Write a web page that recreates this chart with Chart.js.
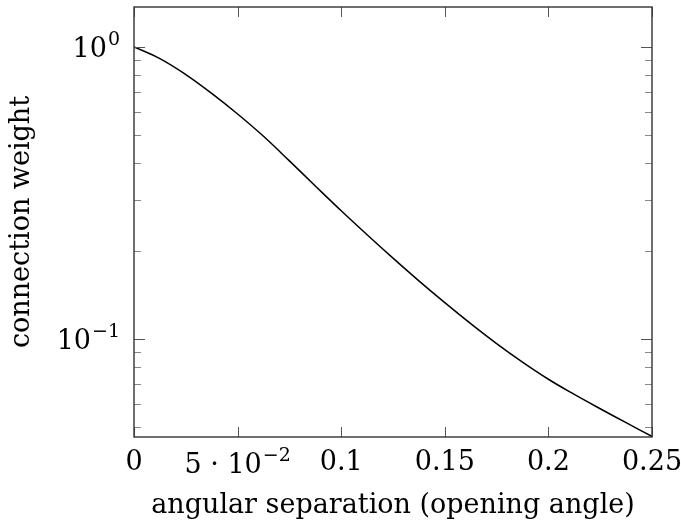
<!DOCTYPE html>
<html>
<head>
<meta charset="utf-8">
<script src="https://cdn.jsdelivr.net/npm/chart.js@4.4.0/dist/chart.umd.min.js"></script>
<style>
  html, body { margin:0; padding:0; background:#fff; }
  #wrap { width:681px; height:528px; position:relative; }
</style>
</head>
<body>
<div id="wrap"><canvas id="weightChart"></canvas></div>
<script>
// angular separation (opening angle) vs connection weight
const angles  = [0, 0.0125, 0.025, 0.0375, 0.05, 0.0625, 0.075, 0.0875, 0.1, 0.1125, 0.125,
                 0.1375, 0.15, 0.1625, 0.175, 0.1875, 0.2, 0.2125, 0.225, 0.2375, 0.25];
const weights = [1.0, 0.912, 0.804, 0.693, 0.589, 0.494, 0.407, 0.334, 0.2746, 0.2273, 0.189,
                 0.158, 0.133, 0.1127, 0.0963, 0.0832, 0.0727, 0.0645, 0.0576, 0.0516, 0.0463];

const xTicks = [0, 0.05, 0.1, 0.15, 0.2, 0.25];
const xTickLabels = ['0', '', '0.1', '0.15', '0.2', '0.25'];
// labels with an exponent: [mantissa part, exponent]
const xPowLabel = { value: 0.05, base: '5 \u00b7 10', exp: '\u22122' };
const yMajor = [0.1, 1];
const yPowLabels = [['10', '\u22121'], ['10', '0']];
const yMinor = [0.05, 0.06, 0.07, 0.08, 0.09, 0.2, 0.3, 0.4, 0.5, 0.6, 0.7, 0.8, 0.9];

const FONT = "'DejaVu Serif', 'Liberation Serif', serif";

function powText(ctx, base, exp, xRight, baseline) {
  ctx.font = '19px ' + FONT;
  const we = ctx.measureText(exp).width;
  ctx.font = '27px ' + FONT;
  const wb = ctx.measureText(base).width;
  const x0 = xRight - we - wb - 1;
  ctx.fillText(base, x0, baseline);
  ctx.font = '19px ' + FONT;
  ctx.fillText(exp, x0 + wb + 1, baseline - 12);
  return we + wb + 1;
}

// pgfplots style frame with inward ticks on all four sides
const frameTicks = {
  id: 'frameTicks',
  afterDraw(chart) {
    const {ctx, chartArea: a, scales: {x, y}} = chart;
    ctx.save();
    ctx.strokeStyle = '#555';
    ctx.lineWidth = 1;
    ctx.beginPath();
    xTicks.forEach(v => {
      const px = Math.round(x.getPixelForValue(v)) + 0.5;
      ctx.moveTo(px, a.bottom); ctx.lineTo(px, a.bottom - 10);
      ctx.moveTo(px, a.top); ctx.lineTo(px, a.top + 10);
    });
    yMajor.forEach(v => {
      const py = Math.round(y.getPixelForValue(v)) + 0.5;
      ctx.moveTo(a.left, py); ctx.lineTo(a.left + 11, py);
      ctx.moveTo(a.right, py); ctx.lineTo(a.right - 11, py);
    });
    ctx.stroke();
    ctx.strokeStyle = '#888';
    ctx.beginPath();
    yMinor.forEach(v => {
      const py = Math.round(y.getPixelForValue(v)) + 0.5;
      ctx.moveTo(a.left, py); ctx.lineTo(a.left + 7, py);
      ctx.moveTo(a.right, py); ctx.lineTo(a.right - 7, py);
    });
    ctx.stroke();
    ctx.strokeStyle = '#333';
    ctx.lineWidth = 1.4;
    ctx.strokeRect(a.left, a.top, a.right - a.left, a.bottom - a.top);

    // tick labels carrying an exponent
    ctx.fillStyle = '#000';
    ctx.textAlign = 'left';
    ctx.textBaseline = 'alphabetic';
    yMajor.forEach((v, i) => {
      const py = y.getPixelForValue(v);
      powText(ctx, yPowLabels[i][0], yPowLabels[i][1], a.left - 14, py + 10);
    });
    ctx.font = '19px ' + FONT;
    const we = ctx.measureText(xPowLabel.exp).width;
    ctx.font = '27px ' + FONT;
    const wb = ctx.measureText(xPowLabel.base).width;
    const cx = x.getPixelForValue(xPowLabel.value);
    powText(ctx, xPowLabel.base, xPowLabel.exp, cx + (wb + we + 1) / 2, a.bottom + 36);
    ctx.restore();
  }
};

new Chart(document.getElementById('weightChart'), {
  type: 'line',
  data: {
    datasets: [{
      data: angles.map((a, i) => ({x: a, y: weights[i]})),
      borderColor: '#000',
      borderWidth: 1.5,
      pointRadius: 0,
      fill: false,
      tension: 0.4
    }]
  },
  options: {
    responsive: true,
    maintainAspectRatio: false,
    animation: false,
    layout: { padding: { top: 7, right: 29, left: 0, bottom: 0 } },
    plugins: { legend: { display: false }, tooltip: { enabled: false } },
    scales: {
      x: {
        type: 'linear',
        min: 0,
        max: 0.25,
        afterFit: s => { s.height = 91; s.paddingLeft = 0; s.paddingRight = 0; },
        afterBuildTicks: s => { s.ticks = xTicks.map(v => ({value: v})); },
        grid: { display: false, drawTicks: false },
        border: { display: false },
        ticks: {
          autoSkip: false,
          maxRotation: 0,
          padding: 10,
          color: '#000',
          font: { family: FONT, size: 27 },
          callback: (v) => xTickLabels[xTicks.indexOf(v)] ?? ''
        },
        title: {
          display: true,
          text: 'angular separation (opening angle)',
          color: '#000',
          font: { family: FONT, size: 27 },
          padding: { top: 0, bottom: 6 }
        }
      },
      y: {
        type: 'logarithmic',
        min: 0.0461,
        max: 1.37,
        afterFit: s => { s.width = 134; s.paddingTop = 0; s.paddingBottom = 0; },
        afterBuildTicks: s => { s.ticks = yMajor.map(v => ({value: v})); },
        grid: { display: false, drawTicks: false },
        border: { display: false },
        ticks: { display: false },
        title: {
          display: true,
          text: 'connection weight',
          color: '#000',
          font: { family: FONT, size: 27 },
          padding: { top: 6, bottom: 0 }
        }
      }
    }
  },
  plugins: [frameTicks]
});
</script>
</body>
</html>
